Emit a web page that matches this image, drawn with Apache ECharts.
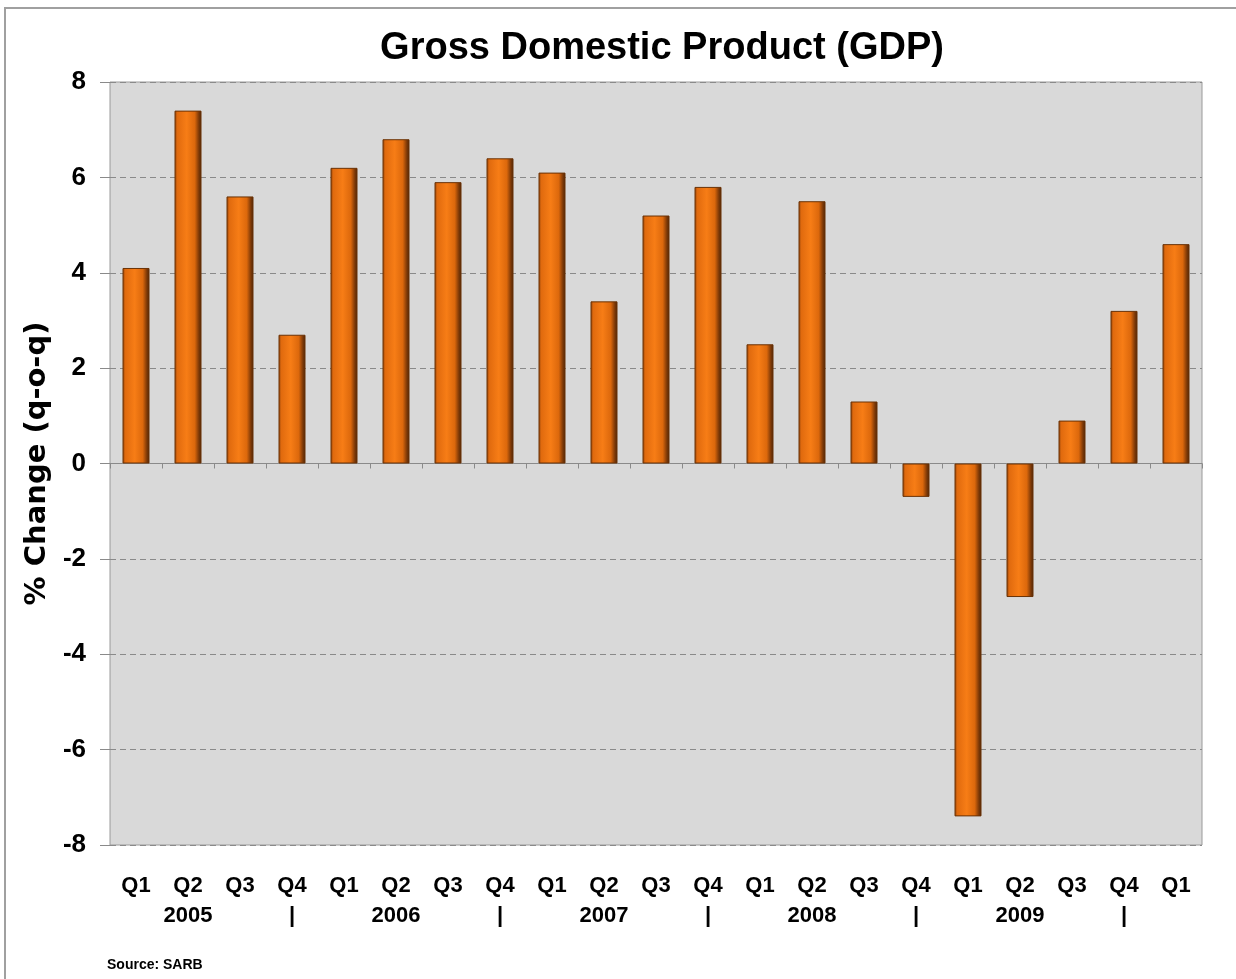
<!DOCTYPE html>
<html lang="en">
<head>
    <meta charset="UTF-8">
    <title>GDP</title>
    <style>
        html, body { margin: 0; padding: 0; background: #fff; }
        #main { width: 1236px; height: 979px; }
    </style>
</head>
<body>
    <div id="main"></div>
    <script src="https://cdn.jsdelivr.net/npm/echarts@6/dist/echarts.min.js"></script>
    <script>
        // quarters and the row under them (year under Q2, bar under Q4)
        var quarters = ['Q1','Q2','Q3','Q4','Q1','Q2','Q3','Q4','Q1','Q2','Q3','Q4','Q1','Q2','Q3','Q4','Q1','Q2','Q3','Q4','Q1'];
        var yearRow  = ['','2005','','|','','2006','','|','','2007','','|','','2008','','|','','2009','','|',''];
        // % change q-o-q
        var gdp = [4.1, 7.4, 5.6, 2.7, 6.2, 6.8, 5.9, 6.4, 6.1, 3.4, 5.2, 5.8, 2.5, 5.5, 1.3, -0.7, -7.4, -2.8, 0.9, 3.2, 4.6];
        var yTicks = { min: -8, max: 8, step: 2 };

        var cats = quarters.map(function (q, i) { return q + '\n' + yearRow[i]; });
        var font = '"Liberation Sans", Arial, sans-serif';

        var myChart = echarts.init(document.getElementById('main'));

        var barColor = new echarts.graphic.LinearGradient(0, 0, 1, 0, [
            { offset: 0, color: '#8a3f08' },
            { offset: 0.1, color: '#e06a0e' },
            { offset: 0.45, color: '#f77d16' },
            { offset: 0.75, color: '#dc680c' },
            { offset: 0.88, color: '#8a3f08' },
            { offset: 1, color: '#4a2205' }
        ]);

        var option = {
            animation: false,
            title: {
                text: 'Gross Domestic Product (GDP)',
                left: 657,
                textAlign: 'center',
                top: 25,
                textStyle: { fontFamily: font, fontWeight: 'bold', fontSize: 38, color: '#000' }
            },
            graphic: [
                { type: 'rect', shape: { x: 5, y: 8, width: 1240, height: 980 }, style: { fill: 'none', stroke: '#a0a0a0', lineWidth: 2 }, silent: true },
                { type: 'text', left: 107, top: 958, style: { text: 'Source: SARB', font: 'bold 14px ' + font, fill: '#000' } }
            ],
            grid: {
                left: 110, right: 34, top: 82, bottom: 134,
                show: true,
                backgroundColor: '#d9d9d9',
                borderColor: '#9a9a9a',
                borderWidth: 1
            },
            xAxis: [{
                type: 'category',
                data: cats,
                position: 'bottom',
                axisLine: { show: false, onZero: false },
                axisTick: { show: false },
                axisLabel: {
                    margin: 26,
                    lineHeight: 30,
                    fontFamily: font,
                    fontWeight: 'bold',
                    fontSize: 22,
                    color: '#000',
                    interval: 0
                }
            }, {
                type: 'category',
                data: cats,
                position: 'top',
                axisLine: { show: true, onZero: true, lineStyle: { color: '#8a8a8a', width: 1 } },
                axisTick: { show: true, inside: true, length: 5, lineStyle: { color: '#8a8a8a' } },
                axisLabel: { show: false }
            }],
            yAxis: {
                type: 'value',
                min: yTicks.min,
                max: yTicks.max,
                interval: yTicks.step,
                name: '% Change (q-o-q)',
                nameLocation: 'middle',
                nameGap: 58,
                nameTextStyle: { fontFamily: '"DejaVu Sans", sans-serif', fontWeight: 'bold', fontSize: 29, color: '#000' },
                axisLine: { show: false },
                axisTick: { show: true, length: 10, lineStyle: { color: '#8a8a8a' } },
                axisLabel: { margin: 24, fontFamily: font, fontWeight: 'bold', fontSize: 26, color: '#000' },
                splitLine: { show: true, lineStyle: { color: '#8a8a8a', type: [6, 4], width: 1 } }
            },
            series: [{
                type: 'bar',
                data: gdp,
                barWidth: 27,
                itemStyle: { color: barColor, borderColor: '#6a3206', borderWidth: 1 }
            }]
        };
        myChart.setOption(option);
    </script>
</body>
</html>
